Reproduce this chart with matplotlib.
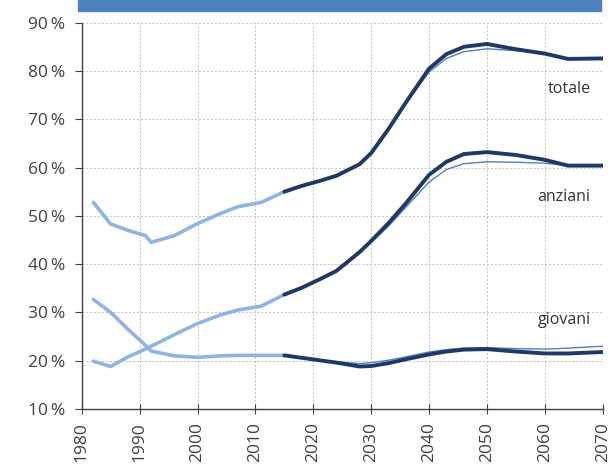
import matplotlib
matplotlib.use("Agg")
import matplotlib.pyplot as plt
from matplotlib.patches import Rectangle

# historical data (1982-2015)
hist_years = [1982, 1985, 1988, 1991, 1992, 1996, 2000, 2004, 2007, 2011, 2015]
hist_totale = [52.8, 48.3, 47.0, 45.9, 44.5, 45.9, 48.4, 50.5, 51.9, 52.8, 55.0]
hist_anziani = [19.9, 18.8, 20.8, 22.4, 23.0, 25.4, 27.7, 29.5, 30.5, 31.3, 33.7]
hist_giovani = [32.7, 30.0, 26.5, 23.2, 22.0, 21.0, 20.7, 21.0, 21.1, 21.1, 21.1]

# projection, baseline (thick)
proj_years = [2015, 2018, 2021, 2024, 2028, 2030, 2033, 2036, 2040, 2043, 2046, 2050, 2055, 2060, 2064, 2070]
proj_totale = [55.0, 56.2, 57.2, 58.3, 60.7, 63.0, 68.0, 73.5, 80.5, 83.5, 85.0, 85.6, 84.5, 83.6, 82.5, 82.6]
proj_anziani = [33.7, 35.1, 36.8, 38.6, 42.5, 44.8, 48.5, 52.6, 58.5, 61.2, 62.8, 63.2, 62.6, 61.6, 60.4, 60.4]
proj_giovani = [21.1, 20.6, 20.1, 19.6, 18.8, 18.9, 19.5, 20.3, 21.3, 21.9, 22.3, 22.4, 21.9, 21.5, 21.5, 21.8]

# alternative projection (thin)
alt_totale = [55.0, 56.2, 57.2, 58.3, 60.8, 63.2, 68.0, 73.3, 79.8, 82.6, 84.0, 84.6, 84.2, 83.6, 82.5, 82.6]
alt_anziani = [33.7, 35.1, 36.8, 38.6, 42.3, 44.5, 47.9, 51.8, 57.0, 59.6, 60.8, 61.2, 61.1, 60.9, 60.4, 60.4]
alt_giovani = [21.1, 20.6, 20.1, 19.8, 19.4, 19.6, 20.1, 20.8, 21.8, 22.3, 22.6, 22.7, 22.5, 22.4, 22.6, 23.0]

labels = ["totale", "anziani", "giovani"]
label_pos = [(2064.3, 76.2), (2063.3, 54.0), (2063.3, 28.5)]

x_ticks = list(range(1980, 2071, 10))
y_ticks = list(range(10, 91, 10))

light = "#8EB4E3"
dark = "#1F3864"
mid = "#4F81BD"

fig = plt.figure(figsize=(6.13, 4.70), dpi=100)
ax = fig.add_axes([0.1333, 0.1298, 0.8500, 0.8219])

for h in (hist_totale, hist_anziani, hist_giovani):
    ax.plot(hist_years, h, color=light, lw=2.6, solid_capstyle="round", zorder=3)
for a in (alt_totale, alt_anziani, alt_giovani):
    ax.plot(proj_years, a, color=mid, lw=1.0, zorder=3)
for p in (proj_totale, proj_anziani, proj_giovani):
    ax.plot(proj_years, p, color=dark, lw=2.8, solid_capstyle="round", zorder=4)

for lab, (x, y) in zip(labels, label_pos):
    ax.text(x, y, lab, ha="center", va="center", fontsize=11.5, color="#333333", family="Open Sans")

ax.set_xlim(1980, 2070)
ax.set_ylim(10, 90)
ax.set_xticks(x_ticks)
ax.set_yticks(y_ticks)
ax.set_xticklabels([str(v) for v in x_ticks], rotation=90, fontsize=12.5, color="#404040", family="Open Sans")
ax.set_yticklabels([f"{v}\u2009%" for v in y_ticks], fontsize=12.5, color="#404040", family="Open Sans")
ax.grid(True, color="#C0C0C0", linestyle=(0, (2, 2)), linewidth=0.7)
ax.set_axisbelow(True)
for s in ("top", "right"):
    ax.spines[s].set_visible(False)
for s in ("left", "bottom"):
    ax.spines[s].set_color("#404040")
    ax.spines[s].set_linewidth(1.0)
ax.tick_params(axis="x", direction="inout", length=7, color="#404040", pad=6)
ax.tick_params(axis="y", direction="out", length=5, color="#404040", pad=7)

fig.patches.append(Rectangle((0.127, 0.977), 0.853, 0.03, transform=fig.transFigure,
                             color="#4F81BD", zorder=0))

fig.savefig("out.png", dpi=100)
